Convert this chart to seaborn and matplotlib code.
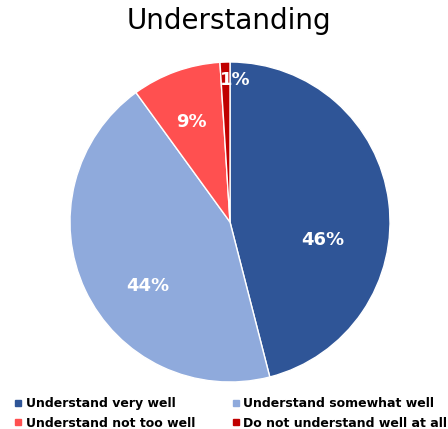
import numpy as np
import matplotlib.pyplot as plt
from matplotlib.lines import Line2D
import seaborn as sns

# chart data
categories = ['Understand very well', 'Understand somewhat well',
              'Understand not too well', 'Do not understand well at all']
shares = [46, 44, 9, 1]
colors = ['#2F5597', '#8FAADC', '#FF5050', '#C00000']

sns.set_theme(style='white')
plt.rcParams['font.family'] = ['DejaVu Sans']
plt.rcParams['text.color'] = 'black'

fig = plt.figure(figsize=(4.48, 4.29), dpi=100)
ax = fig.add_axes([70 / 448, 47 / 429, 320 / 448, 320 / 429])

wedges, texts, autotexts = ax.pie(
    shares, colors=colors, startangle=90, counterclock=False,
    autopct='%d%%', pctdistance=0.63,
    wedgeprops=dict(edgecolor='white', linewidth=1),
    textprops=dict(color='white', fontsize=13, fontweight='bold'))
ax.set_xlim(-1, 1)
ax.set_ylim(-1, 1)

# nudge labels roughly where the original sits them (angle from top, radius)
tweak = [(101, 0.59), (232, 0.65), (339, 0.67), (2, 0.89)]
for t, tw in zip(autotexts, tweak):
    ang = np.deg2rad(90 - tw[0])
    t.set_position((tw[1] * np.cos(ang), tw[1] * np.sin(ang)))

fig.text(0.51, 0.95, 'Understanding', ha='center', va='center', fontsize=20, color='black')

handles = [Line2D([], [], marker='s', linestyle='', color=c, markersize=4.5) for c in colors]
order = [0, 2, 1, 3]
fig.legend([handles[i] for i in order], [categories[i] for i in order],
           ncol=2, loc='lower left', bbox_to_anchor=(0.023, -0.013),
           frameon=False, prop=dict(size=9, weight='bold'),
           handlelength=0.5, handletextpad=0.35, columnspacing=3.0,
           labelspacing=0.5, borderaxespad=0)

fig.savefig('out.png', dpi=100)
